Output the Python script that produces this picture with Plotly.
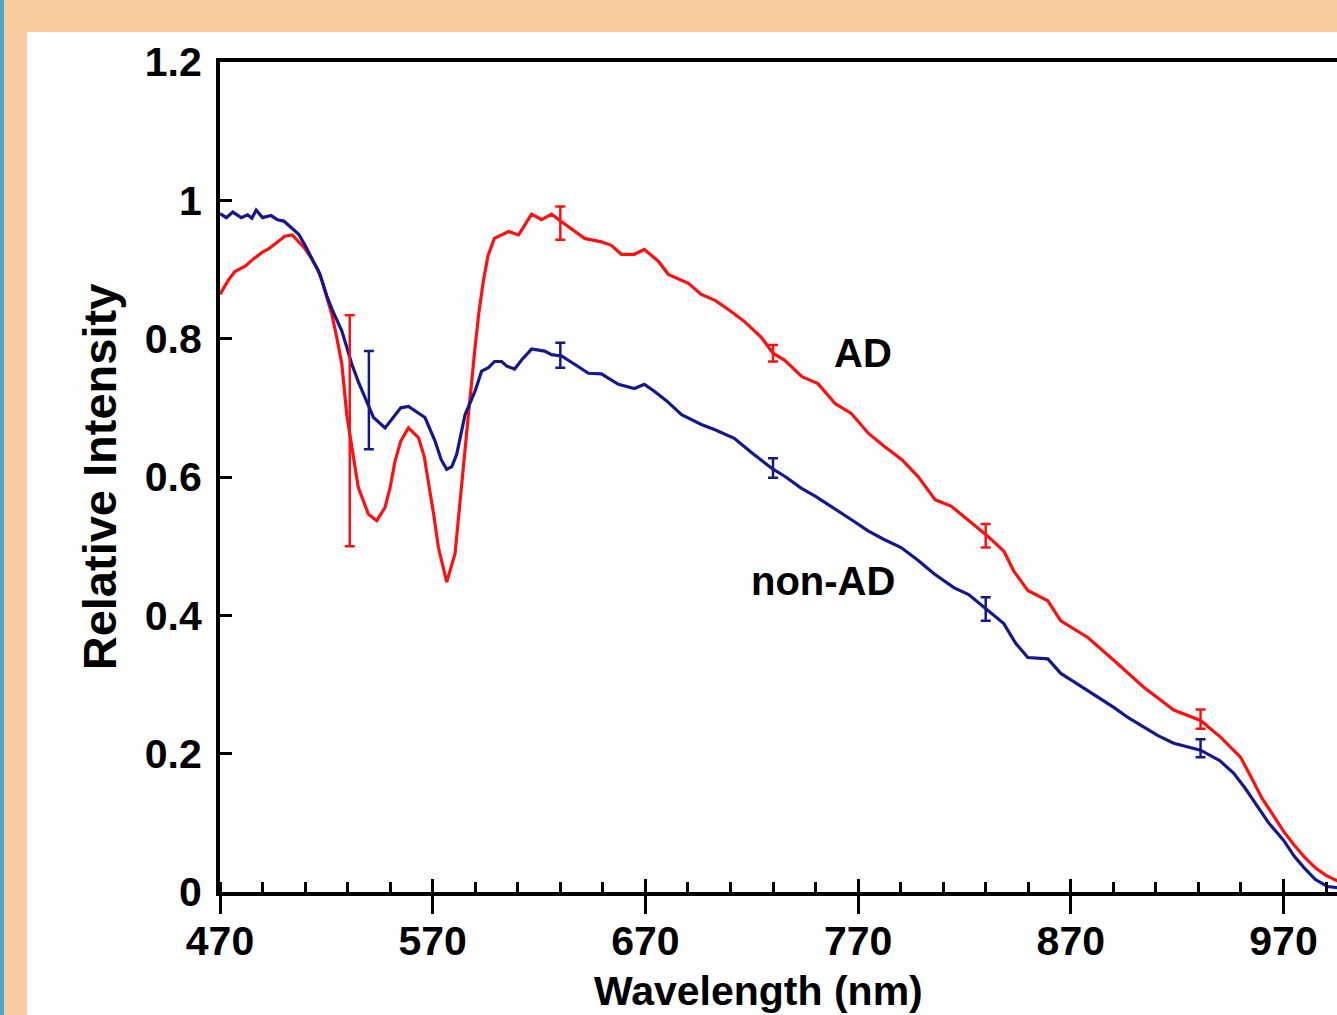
import plotly.graph_objects as go

# ---- data ----
ad_nm = [470, 474, 477, 482, 486, 490, 493, 497, 500.5, 504, 507, 510, 513, 516, 518, 520,
         522.6, 525, 527.3, 529.6, 532, 535, 539.8, 543.7, 547.6, 550, 552.3, 555, 558.6,
         563.3, 566, 568, 570.5, 572.7, 576.6, 580.5, 583.6, 586.8, 589.9, 591.6, 593.8, 596,
         599, 602.4, 605.7, 610.4, 613, 616.5, 621.2, 625.9, 630.6, 635.3, 641.4, 649.3, 654,
         658.7, 664.8, 669.5, 676.1, 680.8, 690.2, 696.3, 703, 710, 716.5, 724.5, 730, 735.4,
         743.6, 751.1, 759.3, 766.8, 774.9, 782.4, 790.6, 798.1, 806.3, 813.7, 821.5, 830,
         838.5, 843.2, 849.8, 859.2, 865.3, 878, 890.2, 904.3, 918.4, 931, 940.4, 949.8, 955,
         960, 965, 970, 975, 980, 985, 990, 996]
ad_val = [0.864, 0.885, 0.897, 0.905, 0.916, 0.925, 0.930, 0.940, 0.948, 0.950, 0.940, 0.930,
          0.916, 0.900, 0.883, 0.862, 0.835, 0.800, 0.763, 0.690, 0.642, 0.585, 0.546, 0.537,
          0.556, 0.585, 0.623, 0.652, 0.671, 0.657, 0.630, 0.594, 0.545, 0.498, 0.448, 0.489,
          0.594, 0.690, 0.787, 0.835, 0.883, 0.920, 0.945, 0.950, 0.955, 0.950, 0.962, 0.980,
          0.972, 0.980, 0.969, 0.959, 0.945, 0.940, 0.935, 0.922, 0.922, 0.929, 0.912, 0.893,
          0.880, 0.864, 0.855, 0.840, 0.825, 0.802, 0.779, 0.769, 0.745, 0.735, 0.706, 0.692,
          0.663, 0.644, 0.625, 0.601, 0.567, 0.558, 0.538, 0.517, 0.493, 0.464, 0.436, 0.421,
          0.392, 0.368, 0.335, 0.296, 0.263, 0.248, 0.224, 0.195, 0.165, 0.135, 0.112, 0.088,
          0.068, 0.050, 0.035, 0.024, 0.015]

nonad_nm = [470, 473, 476, 480, 483, 485, 487, 490, 494, 497, 500, 503, 507, 510, 513.2, 517,
            520.2, 523, 527.3, 532, 535, 538.2, 542.2, 547.6, 552.3, 555, 558.6, 562, 566.4,
            571.1, 574, 576.6, 579, 581.3, 585.2, 589.9, 593, 596.2, 599.1, 602.4, 605, 608.5,
            612, 616.5, 622.6, 625.9, 630.6, 636.7, 643.2, 649.3, 657.3, 664.8, 669.5, 674.2,
            680, 687, 696.3, 703, 711.8, 720, 729.2, 736, 743.2, 750, 758.7, 766, 774.7, 782,
            790.2, 798, 805.7, 815, 822, 830, 838.5, 844, 849.8, 859.2, 865.3, 871, 878, 884,
            890.2, 897, 904.3, 911, 918.4, 925, 931, 940, 946.5, 952, 957.8, 963, 970, 975,
            979.4, 985, 990.7, 996]
nonad_val = [0.981, 0.975, 0.983, 0.975, 0.979, 0.974, 0.986, 0.975, 0.978, 0.972, 0.970,
             0.962, 0.951, 0.935, 0.916, 0.893, 0.862, 0.840, 0.811, 0.763, 0.738, 0.714,
             0.686, 0.671, 0.690, 0.700, 0.702, 0.695, 0.686, 0.652, 0.625, 0.611, 0.615,
             0.633, 0.690, 0.724, 0.753, 0.758, 0.767, 0.767, 0.760, 0.756, 0.770, 0.785,
             0.782, 0.777, 0.775, 0.763, 0.750, 0.749, 0.734, 0.728, 0.734, 0.724, 0.710,
             0.690, 0.676, 0.668, 0.656, 0.635, 0.613, 0.600, 0.584, 0.572, 0.555, 0.540,
             0.522, 0.510, 0.498, 0.480, 0.460, 0.440, 0.430, 0.410, 0.388, 0.360, 0.339,
             0.337, 0.316, 0.305, 0.291, 0.280, 0.267, 0.252, 0.238, 0.226, 0.215, 0.210,
             0.205, 0.190, 0.172, 0.150, 0.123, 0.100, 0.075, 0.052, 0.036, 0.018, 0.008,
             0.006]

# error bars (position, centre, half-length)
ad_err_nm = [531, 630, 730, 830, 931]
ad_err_val = [0.667, 0.967, 0.779, 0.515, 0.250]
ad_err = [0.167, 0.024, 0.012, 0.017, 0.014]

nonad_err_nm = [540, 630, 730, 830, 931]
nonad_err_val = [0.711, 0.776, 0.613, 0.409, 0.208]
nonad_err = [0.071, 0.018, 0.014, 0.017, 0.013]

x_ticks = [470, 570, 670, 770, 870, 970]
y_ticks = [0, 0.2, 0.4, 0.6, 0.8, 1.0, 1.2]
y_ticktext = ["0", "0.2", "0.4", "0.6", "0.8", "1", "1.2"]

RED = "#FF1010"
BLUE = "#14188C"
FONT = "Liberation Sans, Arial, sans-serif"

W, H = 1337, 1015
ML, MR, MT, MB = 220, 0, 62, 123

fig = go.Figure()
fig.add_trace(go.Scatter(x=ad_nm, y=ad_val, mode="lines", line=dict(color=RED, width=3.2),
                         name="AD", showlegend=False))
fig.add_trace(go.Scatter(x=nonad_nm, y=nonad_val, mode="lines", line=dict(color=BLUE, width=3.2),
                         name="non-AD", showlegend=False))
fig.add_trace(go.Scatter(x=ad_err_nm, y=ad_err_val, mode="markers", xaxis="x2",
                         marker=dict(size=1, opacity=0),
                         error_y=dict(type="data", array=ad_err, color=RED, thickness=2.5, width=5),
                         showlegend=False, hoverinfo="skip"))
fig.add_trace(go.Scatter(x=nonad_err_nm, y=nonad_err_val, mode="markers", xaxis="x2",
                         marker=dict(size=1, opacity=0),
                         error_y=dict(type="data", array=nonad_err, color=BLUE, thickness=2.5, width=5),
                         showlegend=False, hoverinfo="skip"))

x_range = [470, 470 + (W - ML - MR) / 2.127]

def px_x(px):
    return (px - ML) / (W - ML - MR)

def px_y(py):
    return (H - MB - py) / (H - MT - MB)

shapes = [
    dict(type="rect", xref="paper", yref="paper", x0=px_x(27), x1=px_x(W + 5),
         y0=px_y(H + 5), y1=px_y(32), fillcolor="white", line=dict(width=0), layer="below"),
    dict(type="rect", xref="paper", yref="paper", x0=px_x(-2), x1=px_x(4),
         y0=px_y(H + 5), y1=px_y(-5), fillcolor="#4BA8C6", line=dict(width=0), layer="below"),
]

fig.update_layout(
    width=W, height=H,
    margin=dict(l=ML, r=MR, t=MT, b=MB, pad=0),
    paper_bgcolor="#F9CBA1",
    plot_bgcolor="white",
    shapes=shapes,
    showlegend=False,
    font=dict(family=FONT, color="black"),
    xaxis=dict(
        range=x_range, tickmode="array", tickvals=x_ticks,
        ticks="outside", ticklen=18, tickwidth=3, tickcolor="black",
        minor=dict(ticks="inside", ticklen=10, tickwidth=3, tickcolor="black", dtick=20, tick0=470,
                   showgrid=False),
        showline=True, linewidth=4, linecolor="black", mirror=True,
        showgrid=False, zeroline=False,
        tickfont=dict(family=FONT, size=41, weight="bold", color="black"),
        ticklabelstandoff=-8,
    ),
    xaxis2=dict(
        range=x_range, overlaying="x", anchor="y", side="bottom",
        tickmode="array", tickvals=x_ticks, ticks="inside", ticklen=13, tickwidth=3,
        tickcolor="black", showticklabels=False, showline=False, showgrid=False, zeroline=False,
    ),
    yaxis=dict(
        range=[0, 1.2], tickmode="array", tickvals=y_ticks, ticktext=y_ticktext,
        ticks="inside", ticklen=12, tickwidth=3, tickcolor="black",
        showline=True, linewidth=4, linecolor="black",
        showgrid=False, zeroline=False,
        tickfont=dict(family=FONT, size=41, weight="bold", color="black"),
        ticklabelstandoff=6,
        title=dict(text="Relative Intensity", font=dict(family=FONT, size=47, weight="bold"),
                   standoff=14),
    ),
    annotations=[
        dict(x=772.3, y=0.779, xref="x", yref="y", text="AD", showarrow=False,
             font=dict(family=FONT, size=40, weight="bold", color="black")),
        dict(x=753.6, y=0.450, xref="x", yref="y", text="non-AD", showarrow=False,
             font=dict(family=FONT, size=40, weight="bold", color="black")),
        dict(x=px_x(758), y=px_y(991), xref="paper", yref="paper", text="Wavelength (nm)",
             showarrow=False, xanchor="center", yanchor="middle",
             font=dict(family=FONT, size=41, weight="bold", color="black")),
    ],
)

fig.write_html("out.html", config={"displayModeBar": False},
               post_script="document.body.style.margin='0';document.body.style.overflow='hidden';")
